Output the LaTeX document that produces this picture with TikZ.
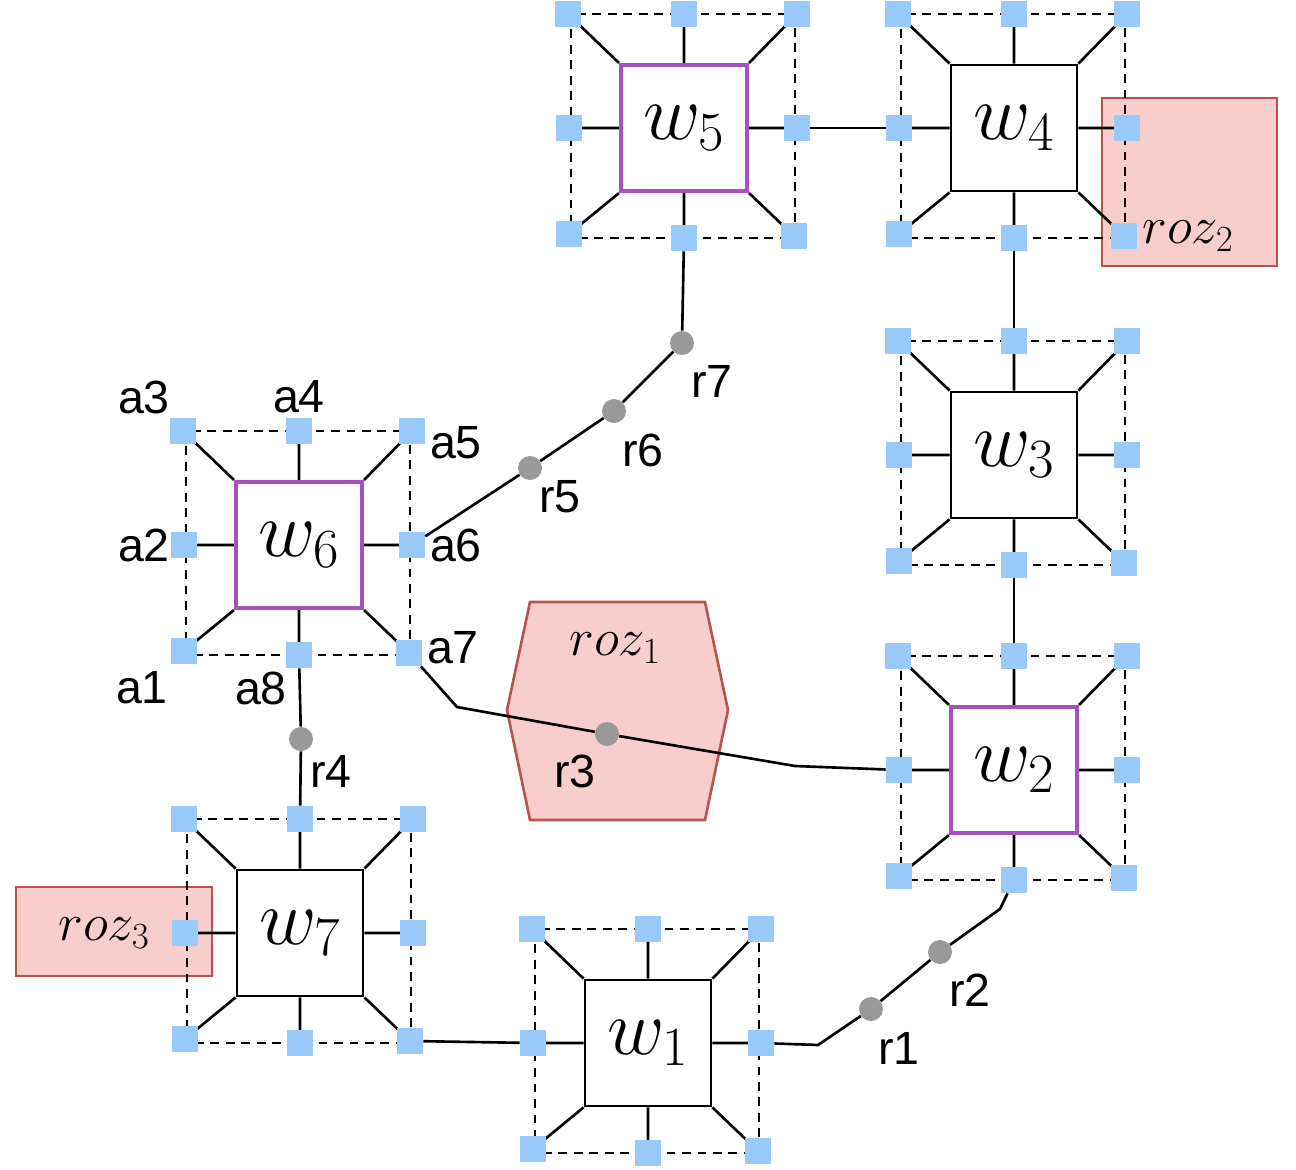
\RequirePackage{fix-cm}
\documentclass[tikz,border=0pt]{standalone}
\usepackage{fontspec}
\setsansfont{Liberation Sans}
\definecolor{bluesq}{RGB}{153,202,250}
\definecolor{pinkf}{RGB}{248,206,204}
\definecolor{pinkd}{RGB}{184,84,80}
\definecolor{purp}{RGB}{168,80,190}
\definecolor{dotg}{RGB}{153,153,153}
\tikzset{
 wsq/.style={draw=black, line width=1.6pt, fill=white, minimum size=2.52cm, inner sep=0pt, font=\fontsize{45}{48}\selectfont},
 purplebox/.style={draw=purp, line width=2.4pt},
 bsq/.style={fill=bluesq, minimum size=0.52cm, inner sep=0pt},
 spoke/.style={line width=1.5pt},
 dbox/.style={line width=1.3pt, dash pattern=on 5pt off 3.8pt},
 conn/.style={line width=1.5pt},
 rdot/.style={circle, fill=dotg, minimum size=0.48cm, inner sep=0pt},
 lab/.style={font=\sffamily\fontsize{26.5}{30}\selectfont, inner sep=0pt},
 zone/.style={fill=pinkf, draw=pinkd, line width=1.5pt},
 zlab/.style={font=\fontsize{30}{34}\selectfont, inner sep=0pt},
}
\newcommand\wmod[5]{%
 \path (#2,#3) coordinate (#1c)
   +(-116,-114) coordinate (#1ptl) +(0,-114) coordinate (#1pt) +(113,-114) coordinate (#1ptr)
   +(-115,0) coordinate (#1pl) +(113,0) coordinate (#1pr)
   +(-115,106) coordinate (#1pbl) +(0,110) coordinate (#1pb) +(110,108) coordinate (#1pbr);
 \draw[dbox] (#2,#3) +(-113,-114) rectangle +(111,110);
 \node[wsq,#4] (#1) at (#1c) {$w_{#5}$};
 \draw[spoke] (#1ptl) -- (#1.north west) (#1pt) -- (#1.north) (#1ptr) -- (#1.north east)
   (#1pl) -- (#1.west) (#1pr) -- (#1.east)
   (#1pbl) -- (#1.south west) (#1pb) -- (#1.south) (#1pbr) -- (#1.south east);
 \node[bsq] (#1tl) at (#1ptl) {};
 \node[bsq] (#1t) at (#1pt) {};
 \node[bsq] (#1tr) at (#1ptr) {};
 \node[bsq] (#1l) at (#1pl) {};
 \node[bsq] (#1r) at (#1pr) {};
 \node[bsq] (#1bl) at (#1pbl) {};
 \node[bsq] (#1b) at (#1pb) {};
 \node[bsq] (#1br) at (#1pbr) {};
}
\begin{document}
\begin{tikzpicture}[x=0.02cm,y=-0.02cm]
\useasboundingbox (0,0) rectangle (1296,1170);
% zones
\draw[zone] (1102,98) rectangle (1277,266);
\draw[zone] (530,602) -- (705,602) -- (728,710) -- (705,820) -- (530,820) -- (507,710) -- cycle;
\draw[zone] (16,887) rectangle (212,976);
% modules
\wmod{w5}{684}{128}{purplebox}{5}
\wmod{w4}{1014}{128}{}{4}
\wmod{w3}{1014}{455}{}{3}
\wmod{w2}{1014}{770}{purplebox}{2}
\wmod{w6}{299}{545}{purplebox}{6}
\wmod{w7}{300}{933}{}{7}
\wmod{w1}{648}{1043}{}{1}
% relay dots
\node[rdot] (r1) at (871,1009) {};
\node[rdot] (r2) at (940,952) {};
\node[rdot] (r3) at (607,734) {};
\node[rdot] (r4) at (301,739) {};
\node[rdot] (r5) at (530,468) {};
\node[rdot] (r6) at (614,411) {};
\node[rdot] (r7) at (682,343) {};
\coordinate (k1) at (457,707);
\coordinate (k2) at (795,766);
\coordinate (k3) at (818,1045);
\coordinate (k4) at (1000,909);
% connectors
\draw[conn] (w5r) -- (w4l);
\draw[conn] (w5b) -- (r7) -- (r6) -- (r5) -- (w6r);
\draw[conn] (w4b) -- (w3t);
\draw[conn] (w3b) -- (w2t);
\draw[conn] (w6br) -- (k1) -- (r3) -- (k2) -- (w2l);
\draw[conn] (w6b) -- (r4) -- (w7t);
\draw[conn] (w7br) -- (w1l);
\draw[conn] (w1r) -- (k3) -- (r1) -- (r2) -- (k4) -- (w2b);
% labels
\node[lab] (la1) at (142,688) {a1};
\node[lab] (la2) at (144,545) {a2};
\node[lab] (la3) at (144,397) {a3};
\node[lab] (la4) at (299,397) {a4};
\node[lab] (la5) at (456,443) {a5};
\node[lab] (la6) at (456,545) {a6};
\node[lab] (la7) at (453,648) {a7};
\node[lab] (la8) at (261,688) {a8};
\node[lab] (lr1) at (899,1048) {r1};
\node[lab] (lr2) at (970,990) {r2};
\node[lab] (lr3) at (575,771) {r3};
\node[lab] (lr4) at (331,771) {r4};
\node[lab] (lr5) at (560,497) {r5};
\node[lab] (lr6) at (643,450) {r6};
\node[lab] (lr7) at (712,381) {r7};
\node[zlab] (z1) at (615,648) {$roz_1$};
\node[zlab] (z2) at (1188,236) {$roz_2$};
\node[zlab] (z3) at (104,933) {$roz_3$};
\end{tikzpicture}
\end{document}
